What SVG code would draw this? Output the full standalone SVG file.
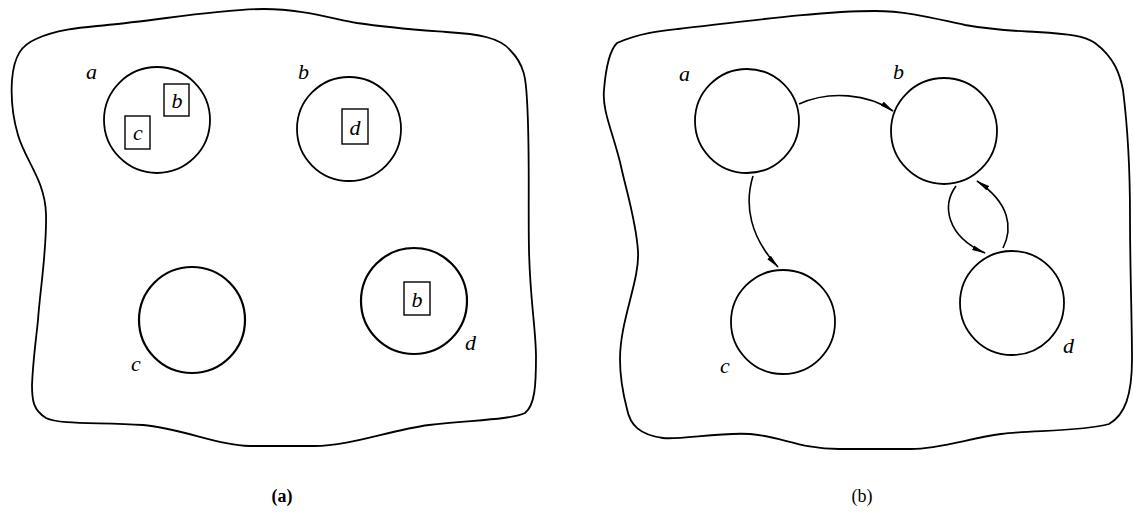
<svg xmlns="http://www.w3.org/2000/svg" width="1133" height="518" viewBox="0 0 1133 518">
<style>
.outline{fill:none;stroke:#000;stroke-width:1.8}
.node{fill:#fff;stroke:#000;stroke-width:1.8}
.box{fill:#fff;stroke:#000;stroke-width:1.4}
.lbl{font-family:"Liberation Serif",serif;font-style:italic;font-size:22px;fill:#000}
.bl{text-anchor:middle}
.edge{fill:none;stroke:#000;stroke-width:1.6}
.cap{font-family:"Liberation Serif",serif;font-size:18px;fill:#000;text-anchor:middle}
</style>
<defs>
<marker id="arr" viewBox="0 0 14 6" refX="13" refY="3" markerWidth="14" markerHeight="6" markerUnits="userSpaceOnUse" orient="auto">
<path d="M0,0.5 L14,3 L0,5.5 Z" fill="#000"/>
</marker>
</defs>
<rect width="1133" height="518" fill="#fff"/>
<g id="panel-a">
<path class="outline" d="M 36,39 C 60,28 90,27 107,25 C 160,20 220,9 264,9 C 300,9 330,18 357,23 C 390,28 420,30 446,32 C 480,34 500,38 510,50 C 525,65 526,80 527,100 C 530,150 528,200 529,250 C 530,300 536,330 536,357 C 536,385 535,405 525,413 C 510,420 470,420 429,425 C 390,430 350,446 314,446 L 250,446 C 220,446 180,428 143,425 C 100,422 60,425 46,418 C 33,410 32,400 32,385 C 33,360 36,340 38,320 C 40,290 47,250 46,214 C 45,180 25,160 18,135 C 12,115 11,95 12,80 C 14,55 22,45 36,39 Z"/>
<g id="a-node"><circle class="node" cx="157" cy="120" r="53"/><text class="lbl" x="86" y="79">a</text>
<rect class="box" x="164" y="84" width="25" height="32"/><text class="lbl bl" x="177" y="108">b</text>
<rect class="box" x="125" y="116" width="25" height="33"/><text class="lbl bl" x="138" y="140">c</text></g>
<g id="b-node"><circle class="node" cx="349" cy="129" r="52"/><text class="lbl" x="298" y="79">b</text>
<rect class="box" x="342" y="109" width="26" height="35"/><text class="lbl bl" x="355" y="135">d</text></g>
<g id="c-node"><circle class="node" cx="192" cy="320" r="53" style="stroke-width:2.2"/><text class="lbl" x="131" y="371">c</text></g>
<g id="d-node"><circle class="node" cx="414" cy="301" r="53" style="stroke-width:2.2"/><text class="lbl" x="465" y="350">d</text>
<rect class="box" x="404" y="282" width="26" height="33"/><text class="lbl bl" x="417" y="307">b</text></g>
<text class="cap" x="282" y="502" style="font-weight:bold">(a)</text>
</g>
<g id="panel-b">
<path class="outline" d="M 617,43 C 640,33 660,31 678,29 C 740,22 820,11 875,11 C 910,11 940,20 965,25 C 1000,31 1020,31 1037,32 C 1070,34 1085,36 1095,43 C 1115,58 1120,75 1123,90 C 1128,130 1130,170 1130,215 C 1130,270 1132,320 1132,359 C 1132,395 1125,415 1109,424 C 1080,432 1030,430 1001,434 C 970,438 940,449 911,449 L 839,449 C 800,449 780,436 750,434 C 720,432 680,440 663,438 C 640,435 630,425 627,409 C 622,390 620,375 620,359 C 620,320 640,280 638,251 C 636,220 626,190 620,162 C 612,130 602,110 604,90 C 606,65 610,50 617,43 Z"/>
<g id="edges">
<path class="edge" d="M 799,104 C 830,90 868,94 893,111" marker-end="url(#arr)"/>
<path class="edge" d="M 753,176 C 744,205 750,237 778,267" marker-end="url(#arr)"/>
<path class="edge" d="M 956,186 C 942,205 946,236 985,253" marker-end="url(#arr)"/>
<path class="edge" d="M 1003,248 C 1013,228 1010,203 977,181" marker-end="url(#arr)"/>
</g>
<g id="na"><circle class="node" cx="747" cy="121" r="52"/><text class="lbl" x="679" y="81">a</text></g>
<g id="nb"><circle class="node" cx="944" cy="131" r="53"/><text class="lbl" x="893" y="79">b</text></g>
<g id="nc"><circle class="node" cx="783" cy="322" r="52"/><text class="lbl" x="720" y="373">c</text></g>
<g id="nd"><circle class="node" cx="1012" cy="303" r="52"/><text class="lbl" x="1063" y="353">d</text></g>
<text class="cap" x="862" y="502">(b)</text>
</g>
</svg>
